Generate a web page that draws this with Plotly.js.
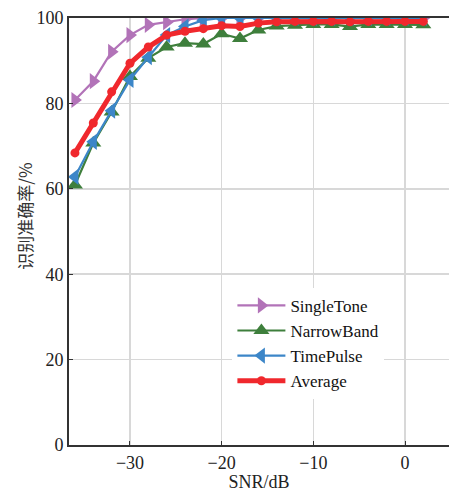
<!DOCTYPE html>
<html><head><meta charset="utf-8">
<script src="https://cdn.plot.ly/plotly-3.0.1.min.js"></script>
<style>body{margin:0;background:#fff}#c{width:449px;height:492px}</style>
</head><body><div id="c"></div>
<script>
const snr = [-36,-34,-32,-30,-28,-26,-24,-22,-20,-18,-16,-14,-12,-10,-8,-6,-4,-2,0,2];
const singleTone = [80.8,85.2,92.1,96.0,98.4,99.0,99.7,100,100,100,100,100,100,100,100,100,100,100,100,100];
const narrowBand = [60.9,70.7,78.0,86.3,90.6,93.2,94.1,93.9,96.3,95.2,97.2,98.1,98.3,98.5,98.5,98.0,98.5,98.5,98.5,98.4];
const timePulse = [62.8,71.0,78.3,85.5,90.8,96.0,98.0,99.5,100,100,100,100,100,100,100,100,100,100,100,100];
const average = [68.4,75.4,82.7,89.4,93.2,96.0,96.9,97.5,98.2,98.0,98.8,99.1,99.2,99.2,99.2,99.1,99.2,99.2,99.2,99.2];
const xTicks = [-30,-20,-10,0];
const yTicks = [0,20,40,60,80,100];

const serif = '"Liberation Serif","Times New Roman",serif';
const traces = [
  {name:'SingleTone', y:singleTone, color:'#b273b8', symbol:'triangle-right', size:14, w:2.2},
  {name:'NarrowBand', y:narrowBand, color:'#3e7f3c', symbol:'triangle-up', size:14, w:2.2},
  {name:'TimePulse', y:timePulse, color:'#3c86c8', symbol:'triangle-left', size:14, w:2.2},
  {name:'Average', y:average, color:'#f0282d', symbol:'circle', size:9, w:5}
].map(t => ({
  x: snr, y: t.y, name: t.name, type:'scatter', mode:'lines+markers',
  line:{color:t.color, width:t.w},
  marker:{symbol:t.symbol, size:t.size, color:t.color}
}));

const layout = {
  width:449, height:492,
  margin:{l:69, r:0, t:18, b:47},
  paper_bgcolor:'#fff', plot_bgcolor:'#fff',
  font:{family:serif, size:18, color:'#222'},
  showlegend:true,
  legend:{x:0.43, y:0.368, xanchor:'left', yanchor:'top', bgcolor:'#fff',
          font:{family:serif, size:17, color:'#111'}, tracegroupgap:0, itemwidth:48},
  xaxis:{range:[-36.65,4.8], tickvals:xTicks, ticktext:xTicks.map(v=>v<0?'\u2212'+(-v):String(v)),
         showgrid:true, gridcolor:'#d8d8d8', gridwidth:1.5, zeroline:false,
         showline:true, linecolor:'#333', linewidth:2, mirror:true,
         ticks:'inside', ticklen:4, tickcolor:'#333', tickfont:{family:serif, size:18},
         title:{text:'SNR/dB', font:{family:serif, size:18}, standoff:0}},
  yaxis:{range:[0,100], tickvals:yTicks, showgrid:true, gridcolor:'#d8d8d8', gridwidth:1.5, zeroline:false,
         showline:true, linecolor:'#333', linewidth:2,
         ticks:'inside', ticklen:4, tickcolor:'#333', tickfont:{family:serif, size:18}},
  annotations:[{text:'识别准确率/%', xref:'paper', yref:'paper', x:-0.118, y:0.535,
                xanchor:'center', yanchor:'middle', textangle:-90, showarrow:false,
                font:{family:'"Noto Sans CJK SC",sans-serif', size:17, color:'#333'}}]
};
Plotly.newPlot('c', traces, layout, {displayModeBar:false, staticPlot:true});
</script></body></html>
